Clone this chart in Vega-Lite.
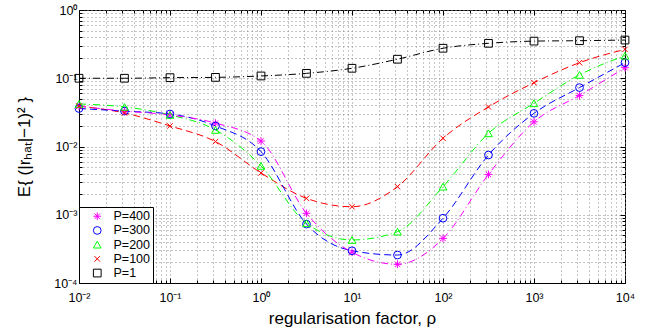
{
  "$schema": "https://vega.github.io/schema/vega-lite/v6.json",
  "width": 546,
  "height": 273,
  "autosize": "none",
  "padding": {"left": 79, "top": 10, "right": 30, "bottom": 49},
  "background": "white",
  "config": {
    "font": "Liberation Sans",
    "view": {"stroke": "black", "strokeWidth": 1},
    "axis": {
      "domainColor": "black",
      "tickColor": "black",
      "labelColor": "black",
      "titleColor": "black",
      "labelFont": "Liberation Sans",
      "titleFont": "Liberation Sans",
      "labelFontSize": 12.5,
      "titleFontSize": 17,
      "titleFontWeight": "normal",
      "gridColor": "#8c8c8c",
      "gridDash": [1, 3],
      "gridWidth": 1,
      "gridOpacity": 1,
      "labelOverlap": false,
      "labelBound": false,
      "labelFlush": false
    },
    "legend": {
      "orient": "bottom-left",
      "offset": 0,
      "strokeColor": "black",
      "fillColor": "white",
      "padding": 3,
      "labelFontSize": 12.5,
      "labelFont": "Liberation Sans",
      "labelColor": "black",
      "symbolSize": 60,
      "symbolStrokeWidth": 1,
      "symbolFillColor": "transparent",
      "rowPadding": 1.2,
      "labelOffset": 10,
      "symbolOffset": 9
    }
  },
  "datasets": {
    "pts": [
      {"rho": 0.01, "P": "P=400", "E": 0.039},
      {"rho": 0.0316, "P": "P=400", "E": 0.033},
      {"rho": 0.1, "P": "P=400", "E": 0.029},
      {"rho": 0.316, "P": "P=400", "E": 0.022},
      {"rho": 1, "P": "P=400", "E": 0.012},
      {"rho": 3.16, "P": "P=400", "E": 0.00105},
      {"rho": 10, "P": "P=400", "E": 0.000282},
      {"rho": 31.6, "P": "P=400", "E": 0.000188},
      {"rho": 100, "P": "P=400", "E": 0.00045},
      {"rho": 316, "P": "P=400", "E": 0.0039},
      {"rho": 1000, "P": "P=400", "E": 0.023},
      {"rho": 3162, "P": "P=400", "E": 0.056},
      {"rho": 10000, "P": "P=400", "E": 0.143},
      {"rho": 0.01, "P": "P=300", "E": 0.036},
      {"rho": 0.0316, "P": "P=300", "E": 0.033},
      {"rho": 0.1, "P": "P=300", "E": 0.030},
      {"rho": 0.316, "P": "P=300", "E": 0.020},
      {"rho": 1, "P": "P=300", "E": 0.0084},
      {"rho": 3.16, "P": "P=300", "E": 0.00073},
      {"rho": 10, "P": "P=300", "E": 0.000297},
      {"rho": 31.6, "P": "P=300", "E": 0.000257},
      {"rho": 100, "P": "P=300", "E": 0.00089},
      {"rho": 316, "P": "P=300", "E": 0.0075},
      {"rho": 1000, "P": "P=300", "E": 0.0306},
      {"rho": 3162, "P": "P=300", "E": 0.073},
      {"rho": 10000, "P": "P=300", "E": 0.169},
      {"rho": 0.01, "P": "P=200", "E": 0.042},
      {"rho": 0.0316, "P": "P=200", "E": 0.038},
      {"rho": 0.1, "P": "P=200", "E": 0.029},
      {"rho": 0.316, "P": "P=200", "E": 0.0175},
      {"rho": 1, "P": "P=200", "E": 0.0052},
      {"rho": 3.16, "P": "P=200", "E": 0.00075},
      {"rho": 10, "P": "P=200", "E": 0.000427},
      {"rho": 31.6, "P": "P=200", "E": 0.000565},
      {"rho": 100, "P": "P=200", "E": 0.00258},
      {"rho": 316, "P": "P=200", "E": 0.0156},
      {"rho": 1000, "P": "P=200", "E": 0.043},
      {"rho": 3162, "P": "P=200", "E": 0.112},
      {"rho": 10000, "P": "P=200", "E": 0.214},
      {"rho": 0.01, "P": "P=100", "E": 0.039},
      {"rho": 0.0316, "P": "P=100", "E": 0.031},
      {"rho": 0.1, "P": "P=100", "E": 0.020},
      {"rho": 0.316, "P": "P=100", "E": 0.0118},
      {"rho": 1, "P": "P=100", "E": 0.0041},
      {"rho": 3.16, "P": "P=100", "E": 0.00174},
      {"rho": 10, "P": "P=100", "E": 0.00131},
      {"rho": 31.6, "P": "P=100", "E": 0.00258},
      {"rho": 100, "P": "P=100", "E": 0.0132},
      {"rho": 316, "P": "P=100", "E": 0.038},
      {"rho": 1000, "P": "P=100", "E": 0.086},
      {"rho": 3162, "P": "P=100", "E": 0.169},
      {"rho": 10000, "P": "P=100", "E": 0.265},
      {"rho": 0.01, "P": "P=1", "E": 0.1},
      {"rho": 0.0316, "P": "P=1", "E": 0.1},
      {"rho": 0.1, "P": "P=1", "E": 0.102},
      {"rho": 0.316, "P": "P=1", "E": 0.103},
      {"rho": 1, "P": "P=1", "E": 0.108},
      {"rho": 3.16, "P": "P=1", "E": 0.118},
      {"rho": 10, "P": "P=1", "E": 0.14},
      {"rho": 31.6, "P": "P=1", "E": 0.19},
      {"rho": 100, "P": "P=1", "E": 0.275},
      {"rho": 316, "P": "P=1", "E": 0.325},
      {"rho": 1000, "P": "P=1", "E": 0.35},
      {"rho": 3162, "P": "P=1", "E": 0.355},
      {"rho": 10000, "P": "P=1", "E": 0.363}
    ]
  },
  "data": {"name": "pts"},
  "layer": [
    {
      "transform": [{"filter": "datum.P === 'P=1'"}],
      "mark": {"type": "line", "interpolate": "monotone", "strokeWidth": 1, "clip": true, "color": "#000000", "strokeDash": [7, 3, 1, 3]},
      "encoding": {
        "x": {
          "field": "rho", "type": "quantitative",
          "scale": {"type": "log", "domain": [0.01, 10000], "nice": false},
          "axis": {
            "orient": "top", "title": null, "labels": false, "grid": false, "domain": false,
            "values": [0.01,0.02,0.03,0.04,0.05,0.06,0.07,0.08,0.09,0.1,0.2,0.3,0.4,0.5,0.6,0.7,0.8,0.9,1,2,3,4,5,6,7,8,9,10,20,30,40,50,60,70,80,90,100,200,300,400,500,600,700,800,900,1000,2000,3000,4000,5000,6000,7000,8000,9000,10000],
            "tickSize": {"condition": {"test": "abs(log(datum.value)/LN10 - round(log(datum.value)/LN10)) < 0.001", "value": -5}, "value": -3}
          }
        },
        "y": {
          "field": "E", "type": "quantitative",
          "scale": {"type": "log", "domain": [0.0001, 1], "nice": false},
          "axis": {
            "orient": "right", "title": null, "labels": false, "grid": false, "domain": false,
            "values": [0.0001,0.0002,0.0003,0.0004,0.0005,0.0006,0.0007,0.0008,0.0009,0.001,0.002,0.003,0.004,0.005,0.006,0.007,0.008,0.009,0.01,0.02,0.03,0.04,0.05,0.06,0.07,0.08,0.09,0.1,0.2,0.3,0.4,0.5,0.6,0.7,0.8,0.9,1],
            "tickSize": {"condition": {"test": "abs(log(datum.value)/LN10 - round(log(datum.value)/LN10)) < 0.001", "value": -5}, "value": -3}
          }
        }
      }
    },
    {
      "transform": [{"filter": "datum.P === 'P=100'"}],
      "mark": {"type": "line", "interpolate": "monotone", "strokeWidth": 1, "clip": true, "color": "#ff0000", "strokeDash": [7, 4]},
      "encoding": {
        "x": {"field": "rho", "type": "quantitative", "axis": null},
        "y": {"field": "E", "type": "quantitative", "axis": null}
      }
    },
    {
      "transform": [{"filter": "datum.P === 'P=200'"}],
      "mark": {"type": "line", "interpolate": "monotone", "strokeWidth": 1, "clip": true, "color": "#00ff00", "strokeDash": [7, 3, 1, 3]},
      "encoding": {
        "x": {"field": "rho", "type": "quantitative", "axis": null},
        "y": {"field": "E", "type": "quantitative", "axis": null}
      }
    },
    {
      "transform": [{"filter": "datum.P === 'P=300'"}],
      "mark": {"type": "line", "interpolate": "monotone", "strokeWidth": 1, "clip": true, "color": "#0000ff", "strokeDash": [7, 4]},
      "encoding": {
        "x": {"field": "rho", "type": "quantitative", "axis": null},
        "y": {"field": "E", "type": "quantitative", "axis": null}
      }
    },
    {
      "transform": [{"filter": "datum.P === 'P=400'"}],
      "mark": {"type": "line", "interpolate": "monotone", "strokeWidth": 1, "clip": true, "color": "#ff00ff", "strokeDash": [7, 3, 1, 3]},
      "encoding": {
        "x": {"field": "rho", "type": "quantitative", "axis": null},
        "y": {"field": "E", "type": "quantitative", "axis": null}
      }
    },
    {
      "mark": {"type": "point", "filled": false, "strokeWidth": 1, "size": 60, "opacity": 1},
      "encoding": {
        "x": {
          "field": "rho", "type": "quantitative",
          "axis": {
            "orient": "bottom",
            "title": "regularisation factor, ρ",
            "titlePadding": 5,
            "grid": true,
            "values": [0.01,0.02,0.03,0.04,0.05,0.06,0.07,0.08,0.09,0.1,0.2,0.3,0.4,0.5,0.6,0.7,0.8,0.9,1,2,3,4,5,6,7,8,9,10,20,30,40,50,60,70,80,90,100,200,300,400,500,600,700,800,900,1000,2000,3000,4000,5000,6000,7000,8000,9000,10000],
            "labelExpr": "abs(log(datum.value)/LN10 - round(log(datum.value)/LN10)) < 0.001 ? '10' + (round(log(datum.value)/LN10) < 0 ? '⁻' : '') + ['⁰','¹','²','³','⁴'][abs(round(log(datum.value)/LN10))] : ''",
            "tickSize": {"condition": {"test": "abs(log(datum.value)/LN10 - round(log(datum.value)/LN10)) < 0.001", "value": -5}, "value": -3},
            "labelPadding": 13
          }
        },
        "y": {
          "field": "E", "type": "quantitative",
          "axis": {
            "orient": "left",
            "title": "E{ (|rₕₐₜ|−1)² }",
            "titlePadding": 20,
            "grid": true,
            "values": [0.0001,0.0002,0.0003,0.0004,0.0005,0.0006,0.0007,0.0008,0.0009,0.001,0.002,0.003,0.004,0.005,0.006,0.007,0.008,0.009,0.01,0.02,0.03,0.04,0.05,0.06,0.07,0.08,0.09,0.1,0.2,0.3,0.4,0.5,0.6,0.7,0.8,0.9,1],
            "labelExpr": "abs(log(datum.value)/LN10 - round(log(datum.value)/LN10)) < 0.001 ? '10' + (round(log(datum.value)/LN10) < 0 ? '⁻' : '') + ['⁰','¹','²','³','⁴'][abs(round(log(datum.value)/LN10))] : ''",
            "tickSize": {"condition": {"test": "abs(log(datum.value)/LN10 - round(log(datum.value)/LN10)) < 0.001", "value": -5}, "value": -3},
            "labelPadding": 7
          }
        },
        "color": {
          "field": "P", "type": "nominal",
          "sort": ["P=400", "P=300", "P=200", "P=100", "P=1"],
          "scale": {"domain": ["P=400", "P=300", "P=200", "P=100", "P=1"], "range": ["#ff00ff", "#0000ff", "#00ff00", "#ff0000", "#000000"]},
          "legend": {"title": null}
        },
        "shape": {
          "field": "P", "type": "nominal",
          "sort": ["P=400", "P=300", "P=200", "P=100", "P=1"],
          "scale": {"domain": ["P=400", "P=300", "P=200", "P=100", "P=1"], "range": ["M0,-1L0,1M-1,0L1,0M-0.7,-0.7L0.7,0.7M-0.7,0.7L0.7,-0.7", "circle", "triangle-up", "M-0.7,-0.7L0.7,0.7M-0.7,0.7L0.7,-0.7", "square"]},
          "legend": {"title": null}
        }
      }
    }
  ],
  "resolve": {"axis": {"x": "independent", "y": "independent"}}
}
